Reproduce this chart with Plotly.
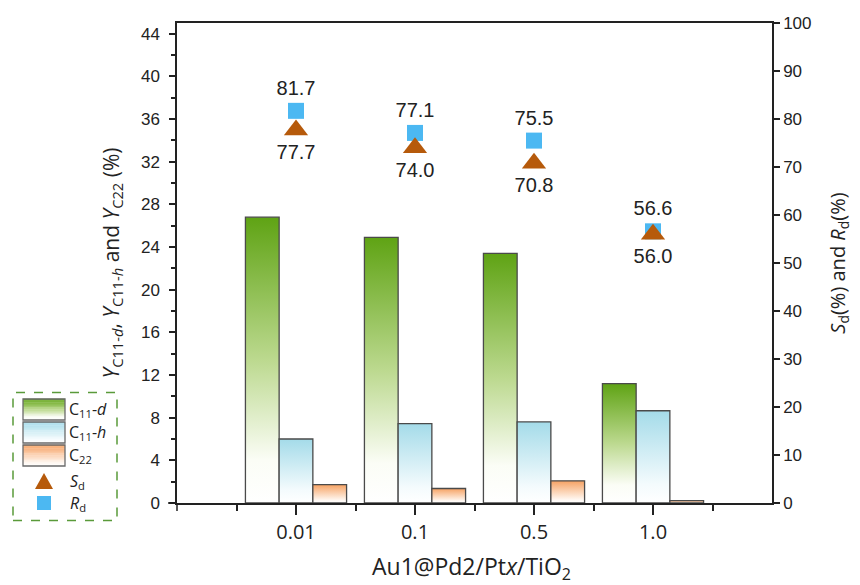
import plotly.graph_objects as go

# ---- data ----
categories = ["0.01", "0.1", "0.5", "1.0"]
c11_d = [26.8, 24.9, 23.4, 11.2]
c11_h = [6.0, 7.45, 7.6, 8.65]
c22 = [1.72, 1.36, 2.08, 0.22]
s_d = [77.7, 74.0, 70.8, 56.0]
r_d = [81.7, 77.1, 75.5, 56.6]
left_ticks = list(range(0, 45, 4))
right_ticks = list(range(0, 101, 10))

xpos = [i + 1 for i in range(len(categories))]
NUM_FONT = "Liberation Sans, Arial, sans-serif"
TXT_FONT = "Open Sans, Noto Sans, sans-serif"

series = [
    ("C<sub>11</sub>-<i>d</i>", c11_d,
     [[0, "#ffffff"], [0.15, "#fbfdf6"], [0.5, "#bcd98f"], [1, "#5fa314"]]),
    ("C<sub>11</sub>-<i>h</i>", c11_h,
     [[0, "#ffffff"], [0.2, "#f4fbfd"], [1, "#a4dbe9"]]),
    ("C<sub>22</sub>", c22,
     [[0, "#ffffff"], [0.15, "#fff8f2"], [1, "#f6a263"]]),
]
SD_COLOR = "#b65a0b"
RD_COLOR = "#4cb8f2"

fig = go.Figure()
w = 0.85 / 3
for j, (name, vals, cs) in enumerate(series):
    off = (j - 1) * w
    for i, v in enumerate(vals):
        xl = xpos[i] + off - w / 2
        xr = xpos[i] + off + w / 2
        fig.add_trace(go.Scatter(
            x=[xl, xl, xr, xr, xl], y=[0, v, v, 0, 0],
            mode="lines", fill="toself",
            fillgradient=dict(type="vertical", colorscale=cs),
            line=dict(color="#4a4a4a", width=1.3),
            name=name, showlegend=False,
            hoverinfo="skip", xaxis="x", yaxis="y"))

fig.add_trace(go.Scatter(
    x=xpos, y=r_d, mode="markers+text", name="R_d",
    marker=dict(symbol="square", size=16, color=RD_COLOR),
    text=[f"{v:.1f}" for v in r_d], textposition="top center",
    textfont=dict(family=NUM_FONT, size=20, color="#222"),
    showlegend=False, xaxis="x", yaxis="y2"))
fig.add_trace(go.Scatter(
    x=xpos, y=s_d, mode="markers+text", name="S_d",
    marker=dict(symbol="triangle-up", size=21, color=SD_COLOR),
    text=[f"{v:.1f}" for v in s_d], textposition="bottom center",
    textfont=dict(family=NUM_FONT, size=20, color="#222"),
    showlegend=False, xaxis="x", yaxis="y2"))

axcol = "#222222"
L, R, T, B = 177, 88, 23, 82
PW, PH = 860 - L - R, 585 - T - B


def px(xp):
    return (xp - L) / PW


def py(yp):
    return (585 - B - yp) / PH


fig.update_layout(
    width=860, height=585,
    margin=dict(l=L, r=R, t=T, b=B, autoexpand=False),
    paper_bgcolor="white", plot_bgcolor="white",
    xaxis=dict(range=[0, 5], tickvals=xpos, ticktext=categories,
               ticks="outside", ticklen=10, tickwidth=1.5, tickcolor=axcol,
               minor=dict(tickvals=[0.5, 1.5, 2.5, 3.5, 4.5], ticks="outside",
                          ticklen=6, tickwidth=1.5, tickcolor=axcol),
               showline=True, linecolor=axcol, linewidth=1.5, mirror=True,
               showgrid=False, zeroline=False,
               tickfont=dict(family=TXT_FONT, size=20, color="#222")),
    yaxis=dict(range=[0, 45], tickvals=left_ticks, ticks="outside",
               ticklen=6, tickwidth=1.5, tickcolor=axcol, ticklabelstandoff=6,
               minor=dict(dtick=2, tick0=2, ticks="outside", ticklen=4,
                          tickwidth=1.5, tickcolor=axcol),
               showline=True, linecolor=axcol, linewidth=1.5,
               showgrid=False, zeroline=False,
               tickfont=dict(family=NUM_FONT, size=17, color="#222"),
               title=dict(text="<i>Y</i><sub>C11-<i>d</i></sub>, <i>Y</i><sub>C11-<i>h</i></sub> and <i>Y</i><sub>C22</sub> (%)",
                          font=dict(family=TXT_FONT, size=21, color="#222"),
                          standoff=16)),
    yaxis2=dict(range=[0, 100], tickvals=right_ticks, overlaying="y",
                side="right", ticks="outside", ticklen=6, tickwidth=1.5,
                tickcolor=axcol, showline=True, linecolor=axcol, linewidth=1.5,
                showgrid=False, zeroline=False,
                tickfont=dict(family=NUM_FONT, size=17, color="#222"),
                title=dict(text="<i>S</i><sub>d</sub>(%) and <i>R</i><sub>d</sub>(%)",
                           font=dict(family=TXT_FONT, size=20, color="#222"),
                           standoff=20)),
    showlegend=False,
)

# x-axis title
fig.add_annotation(xref="paper", yref="paper", x=0.495, y=py(567),
                   text="Au1@Pd2/Pt<i>x</i>/TiO<sub>2</sub>", showarrow=False,
                   xanchor="center", yanchor="middle",
                   font=dict(family=TXT_FONT, size=23, color="#222"))

# small axis-line overhangs at the origin (as in the reference)
fig.add_shape(type="line", xref="paper", yref="paper",
              x0=px(168), x1=0, y0=0, y1=0,
              line=dict(color=axcol, width=1.5))
fig.add_shape(type="line", xref="paper", yref="paper",
              x0=0, x1=0, y0=py(511), y1=0,
              line=dict(color=axcol, width=1.5))


# ---- manual legend (gradient swatches) ----
def hex2rgb(h):
    h = h.lstrip("#")
    return tuple(int(h[k:k + 2], 16) for k in (0, 2, 4))


def interp(cs, t):
    for (a, ca), (b, cb) in zip(cs[:-1], cs[1:]):
        if a <= t <= b:
            f = 0 if b == a else (t - a) / (b - a)
            r1, g1, b1 = hex2rgb(ca)
            r2, g2, b2 = hex2rgb(cb)
            return "rgb(%d,%d,%d)" % (round(r1 + (r2 - r1) * f),
                                      round(g1 + (g2 - g1) * f),
                                      round(b1 + (b2 - b1) * f))
    return cs[-1][1]


fig.add_shape(type="rect", xref="paper", yref="paper",
              x0=px(13), x1=px(117), y0=py(520.5), y1=py(392.5),
              line=dict(color="#5a9a3a", width=1.5, dash="dash"))

sw_x0, sw_x1 = 23, 65
rows = [(399, 420), (422, 443), (445, 466)]
NSTRIP = 24
for (name, vals, cs), (top, bot) in zip(series, rows):
    hgt = (bot - top) / NSTRIP
    for k in range(NSTRIP):
        t = (k + 0.5) / NSTRIP
        yb = bot - k * hgt
        fig.add_shape(type="rect", xref="paper", yref="paper",
                      x0=px(sw_x0), x1=px(sw_x1), y0=py(yb), y1=py(yb - hgt - 0.3),
                      fillcolor=interp(cs, t), line=dict(width=0), layer="above")
    fig.add_shape(type="rect", xref="paper", yref="paper",
                  x0=px(sw_x0), x1=px(sw_x1), y0=py(bot), y1=py(top),
                  line=dict(color="#6a6a6a", width=1.3))
    fig.add_annotation(xref="paper", yref="paper", x=px(67), y=py((top + bot) / 2),
                       text=name, showarrow=False, xanchor="left", yanchor="middle",
                       font=dict(family=TXT_FONT, size=16, color="#222"))

# S_d triangle and R_d square
cx = 44
fig.add_shape(type="path", xref="paper", yref="paper",
              path="M %f,%f L %f,%f L %f,%f Z" % (px(cx - 9), py(489), px(cx + 9), py(489),
                                                  px(cx), py(473)),
              fillcolor=SD_COLOR, line=dict(width=0))
fig.add_shape(type="rect", xref="paper", yref="paper",
              x0=px(cx - 7), x1=px(cx + 7), y0=py(510), y1=py(496),
              fillcolor=RD_COLOR, line=dict(width=0))
fig.add_annotation(xref="paper", yref="paper", x=px(68), y=py(481),
                   text="<i>S</i><sub>d</sub>", showarrow=False, xanchor="left",
                   yanchor="middle", font=dict(family=TXT_FONT, size=16, color="#222"))
fig.add_annotation(xref="paper", yref="paper", x=px(68), y=py(503),
                   text="<i>R</i><sub>d</sub>", showarrow=False, xanchor="left",
                   yanchor="middle", font=dict(family=TXT_FONT, size=16, color="#222"))

fig.write_html("out.html", config={"displayModeBar": False},
               post_script="document.body.style.margin='0';document.body.style.padding='0';")
